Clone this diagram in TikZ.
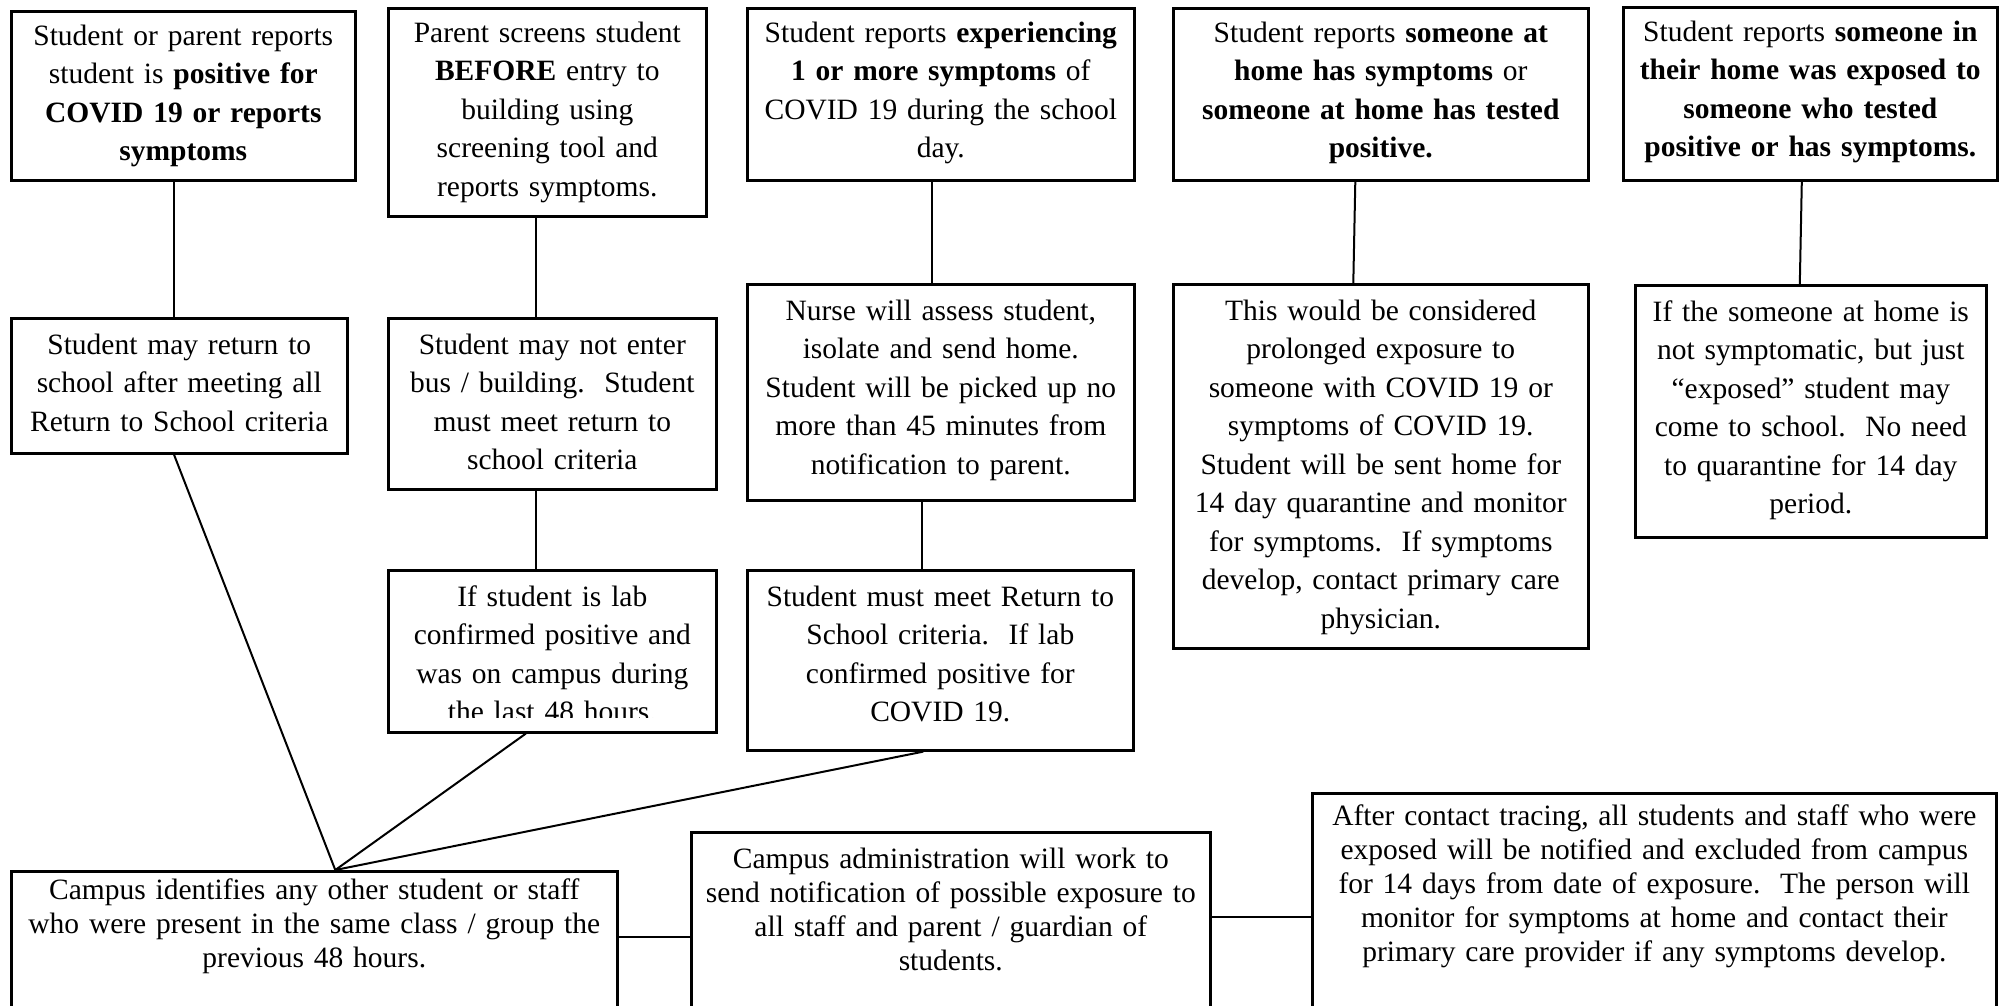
\documentclass[tikz,border=0pt]{standalone}
\usepackage{fontspec}
\setmainfont{Liberation Serif}
\usetikzlibrary{calc}
\tikzset{
  box/.style={draw, line width=2.6pt, rectangle, inner sep=0pt, anchor=north west},
  txt/.style={align=center, inner sep=0pt, anchor=base, text width=700pt,
              font=\fontsize{29.5pt}{38.5pt}\selectfont},
  btxt/.style={txt, font=\fontsize{29.5pt}{34pt}\selectfont},
  con/.style={line width=2pt},
}
\begin{document}
\begin{tikzpicture}[x=1pt,y=-1pt]
\useasboundingbox (0,0) rectangle (2001,1005);
\fill[white] (0,0) rectangle (2001,1005);
\clip (0,0) rectangle (2001,1005);

% boxes
\node[box, minimum width=344pt, minimum height=169pt] (A)  at (10,10) {};
\node[box, minimum width=336pt, minimum height=135pt] (A2) at (10,317) {};
\node[box, minimum width=318pt, minimum height=208pt] (B)  at (387,7) {};
\node[box, minimum width=328pt, minimum height=171pt] (B2) at (387,317) {};
\node[box, minimum width=328pt, minimum height=162pt] (B3) at (387,569) {};
\node[box, minimum width=387pt, minimum height=172pt] (C)  at (746,7) {};
\node[box, minimum width=387pt, minimum height=216pt] (C2) at (746,283) {};
\node[box, minimum width=386pt, minimum height=180pt] (C3) at (746,569) {};
\node[box, minimum width=415pt, minimum height=172pt] (D)  at (1172,7) {};
\node[box, minimum width=415pt, minimum height=364pt] (D2) at (1172,283) {};
\node[box, minimum width=374pt, minimum height=173pt] (E)  at (1622,6) {};
\node[box, minimum width=351pt, minimum height=252pt] (E2) at (1634,284) {};
\node[box, minimum width=606pt, minimum height=180pt] (F1) at (10,870) {};
\node[box, minimum width=519pt, minimum height=220pt] (F2) at (690,831) {};
\node[box, minimum width=684pt, minimum height=260pt] (F3) at (1311,792) {};

% texts
\node[txt] (At) at ($(A.north)+(0,35)$) {Student or parent reports\\student is \textbf{positive for}\\\textbf{COVID 19 or reports}\\\textbf{symptoms}};
\node[txt] (A2t) at ($(A2.north)+(0,37)$) {Student may return to\\school after meeting all\\Return to School criteria};
\node[txt] (Bt) at ($(B.north)+(0,35)$) {Parent screens student\\\textbf{BEFORE} entry to\\building using\\screening tool and\\reports symptoms.};
\node[txt] (B2t) at ($(B2.north)+(0,37)$) {Student may not enter\\bus / building.~~Student\\must meet return to\\school criteria};
\begin{scope}
\clip (B3.north west) rectangle ([yshift=16pt]B3.south east);
\node[txt] (B3t) at ($(B3.north)+(0,37)$) {If student is lab\\confirmed positive and\\was on campus during\\the last 48 hours.};
\end{scope}
\node[txt] (Ct) at ($(C.north)+(0,35)$) {Student reports \textbf{experiencing}\\\textbf{1 or more symptoms} of\\COVID 19 during the school\\day.};
\node[txt] (C2t) at ($(C2.north)+(0,37)$) {Nurse will assess student,\\isolate and send home.\\Student will be picked up no\\more than 45 minutes from\\notification to parent.};
\node[txt] (C3t) at ($(C3.north)+(0,37)$) {Student must meet Return to\\School criteria.~~If lab\\confirmed positive for\\COVID 19.};
\node[txt] (Dt) at ($(D.north)+(0,35)$) {Student reports \textbf{someone at}\\\textbf{home has symptoms} or\\\textbf{someone at home has tested}\\\textbf{positive.}};
\node[txt] (D2t) at ($(D2.north)+(0,37)$) {This would be considered\\prolonged exposure to\\someone with COVID 19 or\\symptoms of COVID 19.\\Student will be sent home for\\14 day quarantine and monitor\\for symptoms.~~If symptoms\\develop, contact primary care\\physician.};
\node[txt] (Et) at ($(E.north)+(0,35)$) {Student reports \textbf{someone in}\\\textbf{their home was exposed to}\\\textbf{someone who tested}\\\textbf{positive or has symptoms.}};
\node[txt] (E2t) at ($(E2.north)+(0,37)$) {If the someone at home is\\not symptomatic, but just\\“exposed” student may\\come to school.~~No need\\to quarantine for 14 day\\period.};
\node[btxt] (F1t) at ($(F1.north)+(0,29)$) {Campus identifies any other student or staff\\who were present in the same class / group the\\previous 48 hours.};
\node[btxt] (F2t) at ($(F2.north)+(0,37)$) {Campus administration will work to\\send notification of possible exposure to\\all staff and parent / guardian of\\students.};
\node[btxt] (F3t) at ($(F3.north)+(0,33)$) {After contact tracing, all students and staff who were\\exposed will be notified and excluded from campus\\for 14 days from date of exposure.~~The person will\\monitor for symptoms at home and contact their\\primary care provider if any symptoms develop.};

% connectors
\draw[con] (A.south -| 174,0) -- (A2.north -| 174,0);
\draw[con] (B.south -| 536,0) -- (B2.north -| 536,0);
\draw[con] (B2.south -| 536,0) -- (B3.north -| 536,0);
\draw[con] (C.south -| 932,0) -- (C2.north -| 932,0);
\draw[con] (C2.south -| 922,0) -- (C3.north -| 922,0);
\draw[con] ([xshift=-25.5pt]D.south) -- ([xshift=-27.5pt]D2.north);
\draw[con] ([xshift=-8.5pt]E.south) -- ([xshift=-11pt]E2.north);
\coordinate (conv) at ([xshift=21pt]F1.north);
\draw[con] (A2.south -| 174,0) -- (conv);
\draw[con] ([xshift=-26.5pt]B3.south) -- (conv);
\draw[con] ([xshift=-17pt]C3.south) -- (conv);
\draw[con] (F1.east |- 0,937) -- (F2.west |- 0,937);
\draw[con] (F2.east |- 0,917) -- (F3.west |- 0,917);
\end{tikzpicture}
\end{document}
